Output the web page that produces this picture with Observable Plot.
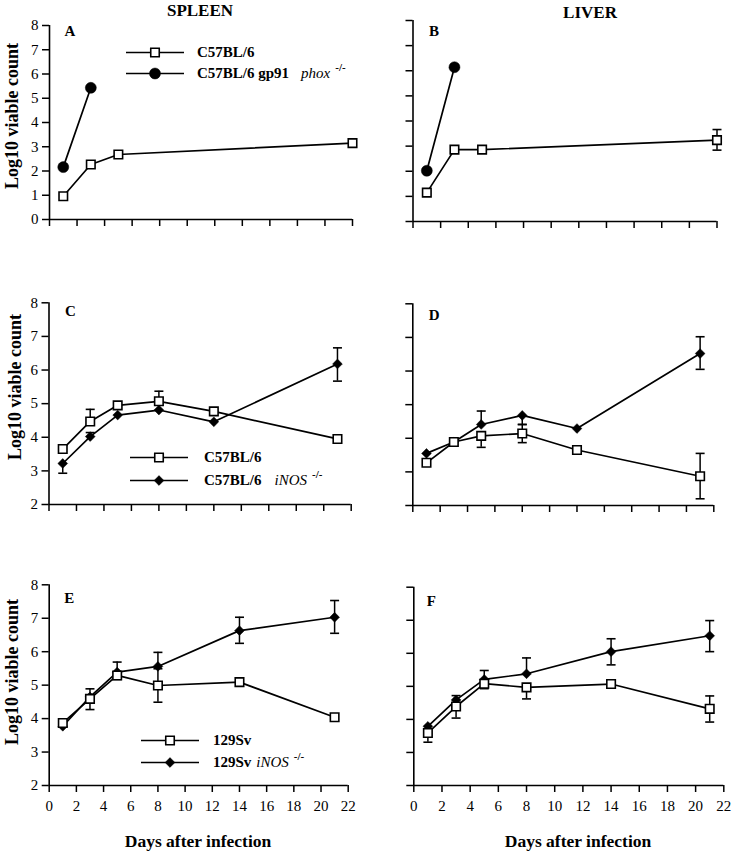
<!DOCTYPE html>
<html><head><meta charset="utf-8">
<script src="https://cdn.jsdelivr.net/npm/d3@7"></script>
<script src="https://cdn.jsdelivr.net/npm/@observablehq/plot@0.6"></script>
<style>
html,body{margin:0;padding:0;background:#fff;}
#root{position:relative;width:732px;height:853px;overflow:hidden;font-family:"Liberation Serif","Times New Roman",serif;color:#000;}
.abs{position:absolute;white-space:nowrap;line-height:1;}
.ctr{transform:translate(-50%,-50%);}
.title{font-weight:bold;font-size:17px;}
.ylab{font-weight:bold;font-size:18px;transform:translate(-50%,-50%) rotate(-90deg);}
.xlab{font-weight:bold;font-size:17.5px;}
.leg{font-size:15px;display:flex;align-items:center;transform:translateY(-50%);}
.leg svg{display:block;}
.b{font-weight:bold;}
.i{font-style:italic;}
.sup{font-size:11px;position:relative;top:-6px;font-weight:bold;}
</style></head>
<body><div id="root"></div>
<script>
// ---------- data ----------
const xTicks = [0, 2, 4, 6, 8, 10, 12, 14, 16, 18, 20, 22];
const yTicksAB = [0, 1, 2, 3, 4, 5, 6, 7, 8];
const yTicksCF = [2, 3, 4, 5, 6, 7, 8];

// Panels A, B : C57BL/6 vs C57BL/6 gp91phox-/-
const daysAB_wt = [1, 3, 5, 22];
const daysAB_ko = [1, 3];
const spleenA_wt = [0.96, 2.27, 2.68, 3.15];
const spleenA_ko = [2.16, 5.43];
const liverB_wt = [1.15, 2.86, 2.86, 3.24];
const liverB_wtUp = [0, 0, 0, 0.42];
const liverB_wtDown = [0, 0, 0, 0.4];
const liverB_ko = [2.02, 6.14];

// Panels C, D : C57BL/6 vs C57BL/6 iNOS-/-
const daysCD = [1, 3, 5, 8, 12, 21];
const spleenC_wt = [3.65, 4.47, 4.95, 5.07, 4.77, 3.95];
const spleenC_wtUp = [0, 0.36, 0, 0.3, 0, 0];
const spleenC_ko = [3.22, 4.02, 4.66, 4.81, 4.46, 6.18];
const spleenC_koUp = [0, 0.12, 0, 0, 0, 0.48];
const spleenC_koDown = [0.29, 0, 0, 0, 0, 0.51];
const liverD_wt = [3.27, 3.89, 4.07, 4.14, 3.65, 2.87];
const liverD_wtUp = [0, 0, 0, 0.27, 0, 0.68];
const liverD_wtDown = [0, 0, 0.34, 0.27, 0, 0.67];
const liverD_ko = [3.55, 3.89, 4.41, 4.68, 4.29, 6.52];
const liverD_koUp = [0, 0, 0.4, 0, 0, 0.5];
const liverD_koDown = [0, 0, 0, 0.27, 0, 0.47];

// Panels E, F : 129Sv vs 129Sv iNOS-/-
const daysEF = [1, 3, 5, 8, 14, 21];
const spleenE_wt = [3.87, 4.59, 5.29, 4.99, 5.09, 4.04];
const spleenE_wtUp = [0, 0, 0, 0.5, 0, 0];
const spleenE_wtDown = [0, 0.32, 0.12, 0.5, 0, 0];
const spleenE_ko = [3.77, 4.65, 5.39, 5.56, 6.63, 7.03];
const spleenE_koUp = [0, 0.24, 0.3, 0.42, 0.4, 0.5];
const spleenE_koDown = [0, 0, 0, 0, 0.38, 0.48];
const liverF_wt = [3.59, 4.39, 5.08, 4.97, 5.07, 4.32];
const liverF_wtUp = [0, 0, 0, 0, 0, 0.39];
const liverF_wtDown = [0.28, 0.35, 0.15, 0.35, 0, 0.4];
const liverF_ko = [3.79, 4.59, 5.21, 5.38, 6.05, 6.53];
const liverF_koUp = [0, 0.13, 0.27, 0.48, 0.39, 0.46];
const liverF_koDown = [0, 0, 0, 0, 0.4, 0.48];

const legendLabelsAB = [["C57BL/6"], ["C57BL/6 gp91", "phox", "-/-"]];
const legendLabelsCD = [["C57BL/6"], ["C57BL/6", "iNOS", "-/-"]];
const legendLabelsEF = [["129Sv"], ["129Sv", "iNOS", "-/-"]];

// ---------- helpers ----------
function rows(days, vals, up, down) {
  return days.map((d, i) => ({day: d, v: vals[i], up: up ? up[i] : 0, down: down ? down[i] : 0}));
}
const cap = {draw(ctx, size) { const w = Math.sqrt(size / Math.PI); ctx.moveTo(-w, 0); ctx.lineTo(w, 0); }};
const koStyle = {
  circle: {symbol: "circle", r: 5.5},
  diamond: {symbol: "diamond2", r: 4.4}
};

const root = document.getElementById("root");

function panel(p) {
  const {L, T, W, H, ml, mr, mt, mb, yDomain, yTicks, xLab, yLab, wt, ko, koSym, letter, ldx, ldy} = p;
  const all = wt.concat(ko);
  const ups = all.filter(d => d.up > 0);
  const downs = all.filter(d => d.down > 0);
  const ks = koStyle[koSym];
  const svg = Plot.plot({
    width: W, height: H,
    marginLeft: ml, marginRight: mr, marginTop: mt, marginBottom: mb,
    x: {domain: [0, 22]},
    y: {domain: yDomain},
    style: {fontFamily: "'Liberation Serif', 'Times New Roman', serif", fontSize: "15px", color: "black", background: "transparent", overflow: "visible"},
    marks: [
      Plot.axisX({ticks: xTicks, tickSize: 7, tickPadding: 8, strokeWidth: 1.5, label: null,
        tickFormat: xLab ? (d => String(d)) : (() => "")}),
      Plot.axisY({ticks: yTicks, tickSize: 7, tickPadding: 4, strokeWidth: 1.5, label: null,
        tickFormat: yLab ? (d => String(d)) : (() => "")}),
      Plot.ruleX([0], {stroke: "black", strokeWidth: 1.6}),
      Plot.ruleY([yDomain[0]], {stroke: "black", strokeWidth: 1.6}),
      Plot.line(ko, {x: "day", y: "v", stroke: "black", strokeWidth: 1.7}),
      Plot.line(wt, {x: "day", y: "v", stroke: "black", strokeWidth: 1.7}),
      Plot.ruleX(ups, {x: "day", y1: "v", y2: d => d.v + d.up, stroke: "black", strokeWidth: 1.5}),
      Plot.ruleX(downs, {x: "day", y1: "v", y2: d => d.v - d.down, stroke: "black", strokeWidth: 1.5}),
      Plot.dot(ups, {x: "day", y: d => d.v + d.up, symbol: cap, r: 4.5, stroke: "black", strokeWidth: 1.6, fill: "none"}),
      Plot.dot(downs, {x: "day", y: d => d.v - d.down, symbol: cap, r: 4.5, stroke: "black", strokeWidth: 1.6, fill: "none"}),
      Plot.dot(ko, {x: "day", y: "v", symbol: ks.symbol, r: ks.r, fill: "black", stroke: "black", strokeWidth: 0.5}),
      Plot.dot(wt, {x: "day", y: "v", symbol: "square", r: 4.8, fill: "white", stroke: "black", strokeWidth: 1.6}),
      Plot.text([letter], {frameAnchor: "top-left", dx: ldx, dy: ldy, fontWeight: "bold", fontSize: 15, text: d => d})
    ]
  });
  svg.style.position = "absolute";
  svg.style.left = L + "px";
  svg.style.top = T + "px";
  svg.style.maxWidth = "none";
  svg.style.margin = "0";
  root.appendChild(svg);
}

function addText(cls, text, x, y) {
  const el = document.createElement("div");
  el.className = "abs " + cls;
  el.textContent = text;
  el.style.left = x + "px";
  el.style.top = y + "px";
  root.appendChild(el);
}

function swatch(sym) {
  const ns = "http://www.w3.org/2000/svg";
  const s = document.createElementNS(ns, "svg");
  s.setAttribute("width", 58); s.setAttribute("height", 14);
  const ln = document.createElementNS(ns, "line");
  ln.setAttribute("x1", 0); ln.setAttribute("x2", 58); ln.setAttribute("y1", 7); ln.setAttribute("y2", 7);
  ln.setAttribute("stroke", "black"); ln.setAttribute("stroke-width", 1.7);
  s.appendChild(ln);
  const path = document.createElementNS(ns, "path");
  let size, type, fill = "black", sw = 0.5;
  if (sym === "square") { type = d3.symbolSquare; size = Math.PI * 4.8 * 4.8; fill = "white"; sw = 1.6; }
  else if (sym === "circle") { type = d3.symbolCircle; size = Math.PI * 5.5 * 5.5; }
  else { type = d3.symbolDiamond2; size = Math.PI * 4.4 * 4.4; }
  path.setAttribute("d", d3.symbol(type, size)());
  path.setAttribute("transform", "translate(29,7)");
  path.setAttribute("fill", fill); path.setAttribute("stroke", "black"); path.setAttribute("stroke-width", sw);
  s.appendChild(path);
  return s;
}

function legendRow(x, y, sym, parts, textGap, italicGap) {
  const el = document.createElement("div");
  el.className = "abs leg";
  el.style.left = x + "px";
  el.style.top = y + "px";
  el.appendChild(swatch(sym));
  const t1 = document.createElement("span");
  t1.className = "b"; t1.textContent = parts[0]; t1.style.marginLeft = textGap + "px";
  el.appendChild(t1);
  if (parts.length > 1) {
    const t2 = document.createElement("span");
    t2.className = "i"; t2.textContent = parts[1]; t2.style.marginLeft = italicGap + "px";
    el.appendChild(t2);
    const t3 = document.createElement("span");
    t3.className = "sup"; t3.textContent = parts[2]; t3.style.marginLeft = "5px";
    el.appendChild(t3);
  }
  root.appendChild(el);
}

// ---------- panels ----------
panel({L: 0, T: 0, W: 362, H: 249, ml: 49, mr: 10, mt: 25, mb: 30, yDomain: [0, 8], yTicks: yTicksAB,
  xLab: false, yLab: true, wt: rows(daysAB_wt, spleenA_wt), ko: rows(daysAB_ko, spleenA_ko), koSym: "circle",
  letter: "A", ldx: 15, ldy: 0});
panel({L: 370, T: 0, W: 357, H: 251, ml: 42.5, mr: 10.5, mt: 20, mb: 30, yDomain: [0, 8], yTicks: yTicksAB,
  xLab: false, yLab: false, wt: rows(daysAB_wt, liverB_wt, liverB_wtUp, liverB_wtDown), ko: rows(daysAB_ko, liverB_ko), koSym: "circle",
  letter: "B", ldx: 16, ldy: 5});
panel({L: 0, T: 270, W: 361, H: 264, ml: 48.5, mr: 10.3, mt: 32.3, mb: 30, yDomain: [2, 8], yTicks: yTicksCF,
  xLab: false, yLab: true, wt: rows(daysCD, spleenC_wt, spleenC_wtUp), ko: rows(daysCD, spleenC_ko, spleenC_koUp, spleenC_koDown), koSym: "diamond",
  letter: "C", ldx: 16, ldy: 3});
panel({L: 370, T: 270, W: 354, H: 265, ml: 42.3, mr: 10.7, mt: 33.3, mb: 30, yDomain: [2, 8], yTicks: yTicksCF,
  xLab: false, yLab: false, wt: rows(daysCD, liverD_wt, liverD_wtUp, liverD_wtDown), ko: rows(daysCD, liverD_ko, liverD_koUp, liverD_koDown), koSym: "diamond",
  letter: "D", ldx: 16, ldy: 6});
panel({L: 0, T: 560, W: 358, H: 270, ml: 48.7, mr: 10.3, mt: 24.3, mb: 45, yDomain: [2, 8], yTicks: yTicksCF,
  xLab: true, yLab: true, wt: rows(daysEF, spleenE_wt, spleenE_wtUp, spleenE_wtDown), ko: rows(daysEF, spleenE_ko, spleenE_koUp, spleenE_koDown), koSym: "diamond",
  letter: "E", ldx: 15, ldy: 8});
panel({L: 370, T: 560, W: 362, H: 270, ml: 43.3, mr: 8.7, mt: 26.7, mb: 45, yDomain: [2, 8], yTicks: yTicksCF,
  xLab: true, yLab: false, wt: rows(daysEF, liverF_wt, liverF_wtUp, liverF_wtDown), ko: rows(daysEF, liverF_ko, liverF_koUp, liverF_koDown), koSym: "diamond",
  letter: "F", ldx: 13, ldy: 8});

// ---------- text ----------
addText("title ctr", "SPLEEN", 200, 10);
addText("title ctr", "LIVER", 590, 12);
addText("ylab", "Log10 viable count", 12, 116);
addText("ylab", "Log10 viable count", 15, 387);
addText("ylab", "Log10 viable count", 12, 672);
addText("xlab ctr", "Days after infection", 198, 842);
addText("xlab ctr", "Days after infection", 578, 842);

// ---------- legends ----------
legendRow(126, 52, "square", legendLabelsAB[0], 13, 0);
legendRow(126, 73, "circle", legendLabelsAB[1], 13, 12);
legendRow(130, 457, "square", legendLabelsCD[0], 16, 0);
legendRow(130, 480, "diamond", legendLabelsCD[1], 16, 13);
legendRow(141, 740, "square", legendLabelsEF[0], 14, 0);
legendRow(141, 762, "diamond", legendLabelsEF[1], 14, 5);
</script></body></html>
